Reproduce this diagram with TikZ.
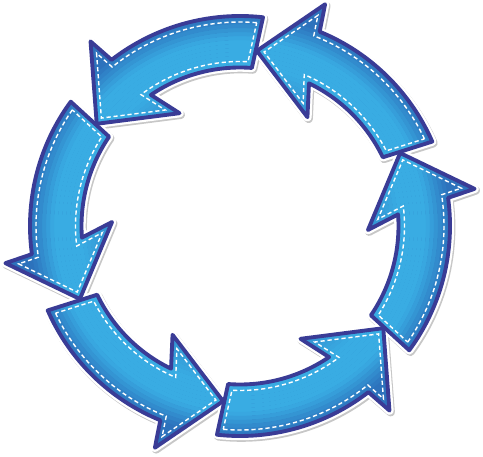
\documentclass[tikz,border=0pt]{standalone}
\usepackage{tikz}

\definecolor{ringlight}{RGB}{57,172,227}
\definecolor{ringdark}{RGB}{45,114,188}
\definecolor{rim}{RGB}{58,60,150}

% one arrow of the ring, its tail at angle #1
\newcommand{\ringarrow}[1]{(#1:210) arc[start angle=#1, end angle=#1+44, radius=210]
	-- ({#1+45.3}:237.5) -- ({#1+60.8}:176) -- ({#1+34.5}:128) -- ({#1+40.5}:158.5)
	arc[start angle=#1+40.5, end angle=#1+2, radius=158.5] -- cycle}
% the stitching, a little inside the arrow
\newcommand{\ringstitch}[1]{({#1+1.6}:204) arc[start angle=#1+1.6, end angle=#1+45.1, radius=204]
	-- ({#1+46}:224.6) -- ({#1+58.4}:175.7) -- ({#1+39.1}:138) -- ({#1+43.3}:164.5)
	arc[start angle=#1+43.3, end angle=#1+3.5, radius=164.5] -- cycle}

\begin{document}
\begin{tikzpicture}[x=0.02cm, y=0.02cm,
	rim line/.style={draw=rim, line width=2.2pt, line join=round},
	halo line/.style={draw=white, line width=4.8pt, line join=round},
	shadow line/.style={draw=black!22, line width=4.8pt, line join=round, shift={(1.2,-1.6)}},
	stitch line/.style={draw=white, line width=0.8pt, dash pattern=on 2.4pt off 1.6pt}]
	\useasboundingbox (-240,-230) rectangle (243,226);
	% shadow and white rim under the arrows
	\foreach \a in {23.7,83.7,...,323.7}
		\path[shadow line] \ringarrow{\a};
	\foreach \a in {23.7,83.7,...,323.7}
		\path[halo line] \ringarrow{\a};
	% the six arrows, light in the middle of the band and darker outside
	\foreach \a in {23.7,83.7,...,323.7}{
		\begin{scope}
			\clip \ringarrow{\a};
			\fill[ringdark] (0,0) circle[radius=240];
			\foreach \r in {124,128,...,220}{
				\pgfmathsetmacro\lit{max(0,min(100,100-4*(\r-186),70+1.5*(\r-140)))}
				\draw[ringlight!\lit!ringdark, line width=0.085cm] (0,0) circle[radius=\r];
			}
		\end{scope}
		\path[rim line] \ringarrow{\a};
		\path[stitch line] \ringstitch{\a};
	}
\end{tikzpicture}
\end{document}
